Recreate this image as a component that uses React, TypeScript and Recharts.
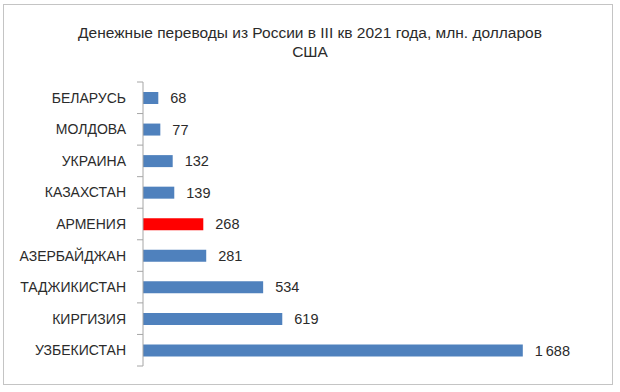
import React from 'react';
import { BarChart, Bar, XAxis, YAxis, Cell, LabelList } from 'recharts';

const countries = ['БЕЛАРУСЬ', 'МОЛДОВА', 'УКРАИНА', 'КАЗАХСТАН', 'АРМЕНИЯ', 'АЗЕРБАЙДЖАН', 'ТАДЖИКИСТАН', 'КИРГИЗИЯ', 'УЗБЕКИСТАН'];
const transfers = [68, 77, 132, 139, 268, 281, 534, 619, 1688];
const highlighted = 'АРМЕНИЯ';

const data = countries.map((name, i) => ({ name, value: transfers[i] }));

const FONT = '"Liberation Sans", Arial, sans-serif';
const TOP = 82;
const BOTTOM = 26;
const HEIGHT = 392;
const band = (HEIGHT - TOP - BOTTOM) / countries.length;

const formatValue = (v: number) => String(v).replace(/\B(?=(\d{3})+(?!\d))/g, '\u2009');

const CategoryTick = (props: any) => {
  const { x, y, payload, index, visibleTicksCount } = props;
  const isLast = index === visibleTicksCount - 1;
  return (
    <g>
      <line x1={x - 6} x2={x} y1={y - band / 2} y2={y - band / 2} stroke="#a6a6a6" />
      {isLast && <line x1={x - 6} x2={x} y1={y + band / 2} y2={y + band / 2} stroke="#a6a6a6" />}
      <text x={x - 17} y={y} dy={5} textAnchor="end" fontSize={14} fill="#2b2b2b" fontFamily={FONT}>
        {payload.value}
      </text>
    </g>
  );
};

export default function App() {
  return (
    <div style={{ position: 'absolute', left: 0, top: 0, width: 620, height: 392, background: '#fff' }}>
      <div
        style={{
          position: 'absolute',
          left: 3,
          top: 4,
          width: 608,
          height: 379,
          border: '1.5px solid #c4c4c4',
        }}
      />
      <div
        style={{
          position: 'absolute',
          left: 0,
          top: 23,
          width: 620,
          textAlign: 'center',
          fontFamily: FONT,
          fontSize: 15.5,
          lineHeight: '19px',
          color: '#2b2b2b',
        }}
      >
        Денежные переводы из России в III кв 2021 года, млн. долларов
        <br />
        США
      </div>
      <div style={{ position: 'absolute', left: 0, top: 0 }}>
        <BarChart
          layout="vertical"
          width={620}
          height={HEIGHT}
          data={data}
          margin={{ top: TOP, right: 27, bottom: BOTTOM, left: 0 }}
        >
          <XAxis type="number" domain={[0, 2000]} hide />
          <YAxis
            type="category"
            dataKey="name"
            width={143}
            axisLine={{ stroke: '#a6a6a6' }}
            tickLine={false}
            tickSize={0}
            tickMargin={0}
            tick={<CategoryTick />}
            interval={0}
          />
          <Bar dataKey="value" barSize={12} isAnimationActive={false}>
            {data.map((d) => (
              <Cell key={d.name} fill={d.name === highlighted ? '#ff0000' : '#4f81bd'} />
            ))}
            <LabelList
              dataKey="value"
              position="right"
              offset={12}
              formatter={(v: any) => formatValue(Number(v))}
              style={{ fontSize: 14.5, fill: '#2b2b2b', fontFamily: FONT }}
            />
          </Bar>
        </BarChart>
      </div>
    </div>
  );
}
